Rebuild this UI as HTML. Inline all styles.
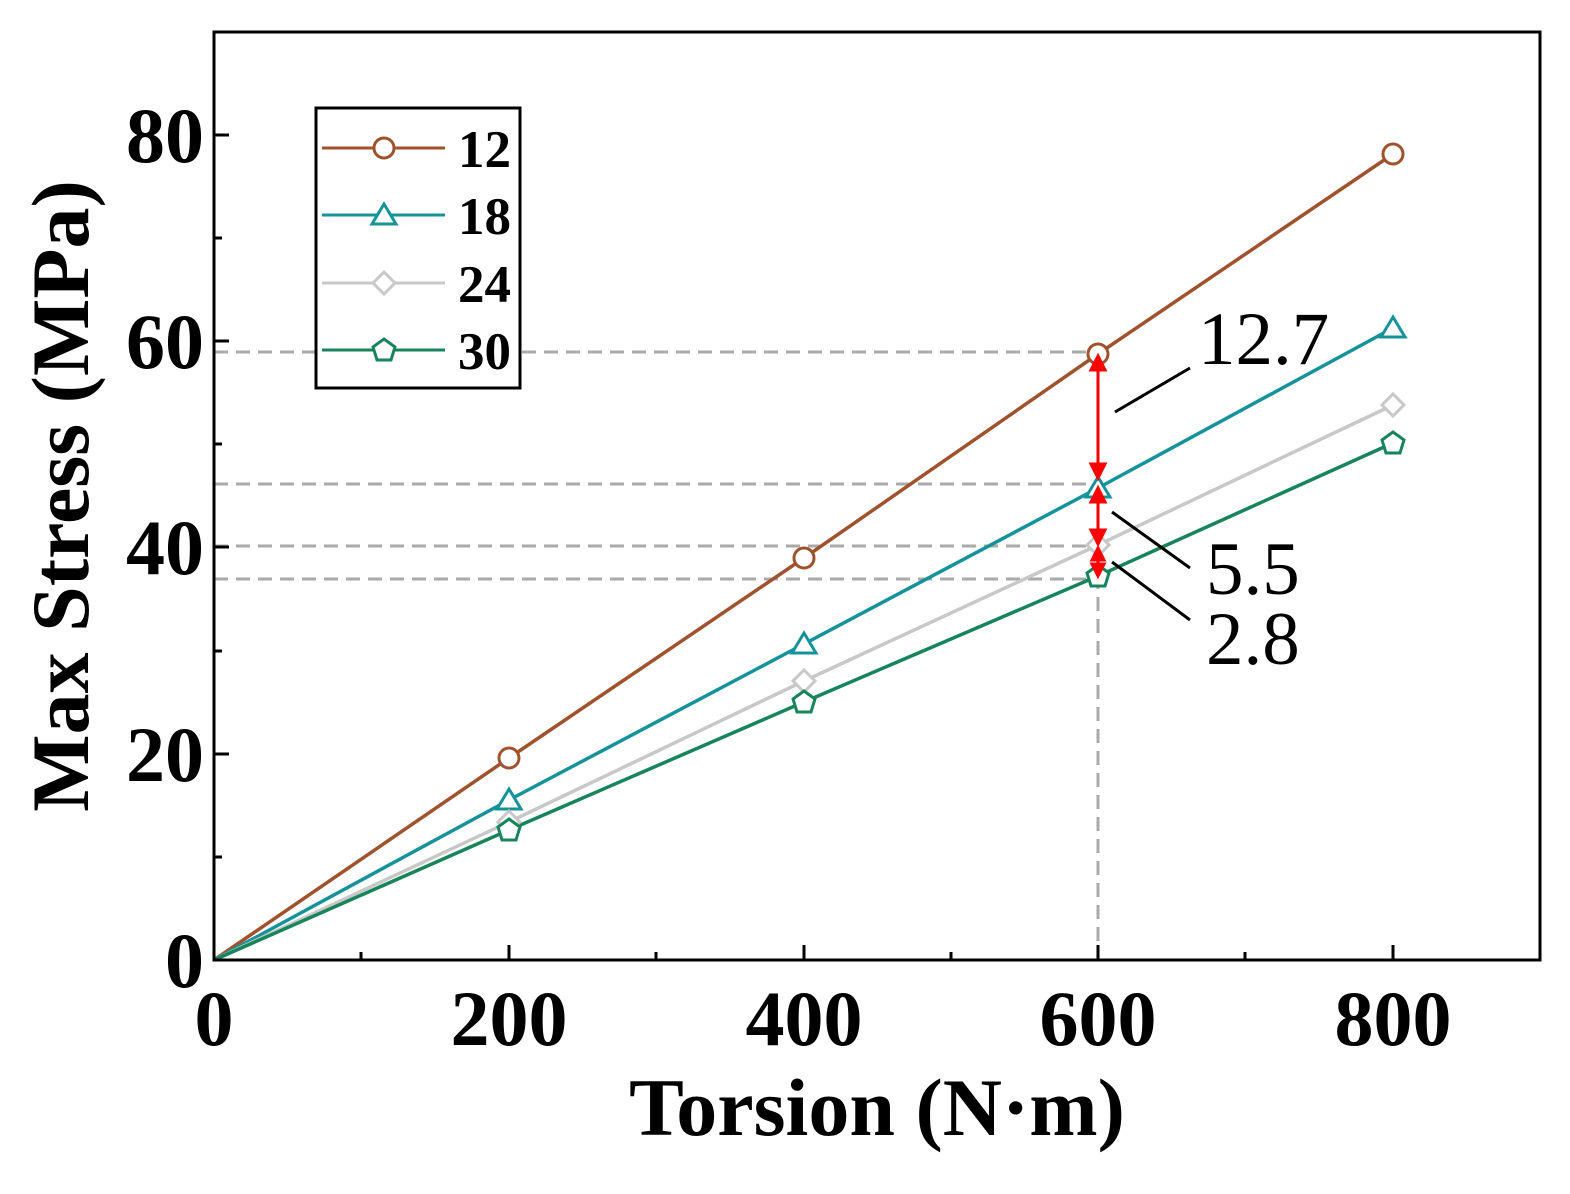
<!DOCTYPE html>
<html><head><meta charset="utf-8"><style>body{margin:0;background:#fff}</style></head><body>
<svg width="1570" height="1189" xmlns="http://www.w3.org/2000/svg" font-family="Liberation Serif, serif">
<rect width="1570" height="1189" fill="#fff"/>
<g stroke="#aaa" stroke-width="3" stroke-dasharray="14,8" fill="none">
<line x1="214" y1="352" x2="1098" y2="352"/>
<line x1="214" y1="484" x2="1098" y2="484"/>
<line x1="214" y1="546" x2="1098" y2="546"/>
<line x1="214" y1="579" x2="1098" y2="579"/>
<line x1="1098" y1="575" x2="1098" y2="960"/>
</g>
<g fill="none" stroke-width="3.5">
<polyline stroke="#a0522d" points="214,960 509,758 804,558 1098,354 1393,154"/>
<polyline stroke="#16939a" points="214,960 509,800 804,644 1098,488 1393,328"/>
<polyline stroke="#c8c8c8" points="214,960 509,822 804,681 1098,545 1393,405"/>
<polyline stroke="#17845a" points="214,960 509,830 804,702 1098,576 1393,443"/>
</g>
<g fill="#fff" stroke-width="3">
<g stroke="#a0522d"><circle cx="509" cy="758" r="10"/><circle cx="804" cy="558" r="10"/><circle cx="1098" cy="354" r="10"/><circle cx="1393" cy="154" r="10"/></g>
<g stroke="#16939a"><polygon points="509,789 521,809 497,809"/><polygon points="804,633 816,653 792,653"/><polygon points="1098,477 1110,497 1086,497"/><polygon points="1393,317 1405,337 1381,337"/></g>
<g stroke="#c8c8c8"><polygon points="509,811 520,822 509,833 498,822"/><polygon points="804,670 815,681 804,692 793,681"/><polygon points="1098,534 1109,545 1098,556 1087,545"/><polygon points="1393,394 1404,405 1393,416 1382,405"/></g>
<g stroke="#17845a"><polygon points="509,819 520,827 516,840 502,840 498,827"/><polygon points="804,691 815,699 811,712 797,712 793,699"/><polygon points="1098,565 1109,573 1105,586 1091,586 1087,573"/><polygon points="1393,432 1404,440 1400,453 1386,453 1382,440"/></g>
</g>
<g stroke="#f00" stroke-width="3" fill="#f00">
<line x1="1098" y1="362" x2="1098" y2="470"/><polygon points="1098,356 1091,370 1105,370"/><polygon points="1098,478 1091,464 1105,464"/>
<line x1="1098" y1="494" x2="1098" y2="536"/><polygon points="1098,488 1091,502 1105,502"/><polygon points="1098,544 1091,530 1105,530"/>
<line x1="1098" y1="552" x2="1098" y2="570"/><polygon points="1098,548 1092,560 1104,560"/><polygon points="1098,576 1092,564 1104,564"/>
</g>
<g stroke="#000" stroke-width="3">
<line x1="1115" y1="412" x2="1190" y2="368"/>
<line x1="1112" y1="512" x2="1190" y2="568"/>
<line x1="1112" y1="562" x2="1190" y2="620"/>
</g>
<g font-size="75" fill="#000">
<text x="1198" y="364">12.7</text>
<text x="1206" y="594">5.5</text>
<text x="1206" y="664">2.8</text>
</g>
<rect x="214" y="32" width="1326" height="928" fill="none" stroke="#000" stroke-width="3"/>
<g stroke="#000" stroke-width="3">
<line x1="509" y1="960" x2="509" y2="945"/><line x1="804" y1="960" x2="804" y2="945"/><line x1="1098" y1="960" x2="1098" y2="945"/><line x1="1393" y1="960" x2="1393" y2="945"/>
<line x1="361" y1="960" x2="361" y2="952"/><line x1="656" y1="960" x2="656" y2="952"/><line x1="951" y1="960" x2="951" y2="952"/><line x1="1245" y1="960" x2="1245" y2="952"/>
<line x1="214" y1="754" x2="229" y2="754"/><line x1="214" y1="547" x2="229" y2="547"/><line x1="214" y1="341" x2="229" y2="341"/><line x1="214" y1="135" x2="229" y2="135"/>
<line x1="214" y1="857" x2="222" y2="857"/><line x1="214" y1="651" x2="222" y2="651"/><line x1="214" y1="444" x2="222" y2="444"/><line x1="214" y1="238" x2="222" y2="238"/>
</g>
<g font-size="78" font-weight="bold" fill="#000">
<g text-anchor="end"><text x="204" y="987">0</text><text x="204" y="781">20</text><text x="204" y="574">40</text><text x="204" y="368">60</text><text x="204" y="162">80</text></g>
<g text-anchor="middle"><text x="214" y="1045">0</text><text x="509" y="1045">200</text><text x="804" y="1045">400</text><text x="1098" y="1045">600</text><text x="1393" y="1045">800</text></g>
<text x="877" y="1135" text-anchor="middle" font-size="82">Torsion (N·m)</text>
<text transform="translate(88,496) rotate(-90)" text-anchor="middle" font-size="82">Max Stress (MPa)</text>
</g>
<rect x="316" y="108" width="204" height="280" fill="#fff" stroke="#000" stroke-width="3"/>
<g stroke-width="3" fill="#fff">
<line x1="322" y1="148" x2="445" y2="148" stroke="#a0522d"/><circle cx="384" cy="148" r="10" stroke="#a0522d"/>
<line x1="322" y1="215" x2="445" y2="215" stroke="#16939a"/><polygon points="384,204 396,224 372,224" stroke="#16939a"/>
<line x1="322" y1="283" x2="445" y2="283" stroke="#c8c8c8"/><polygon points="384,272 395,283 384,294 373,283" stroke="#c8c8c8"/>
<line x1="322" y1="350" x2="445" y2="350" stroke="#17845a"/><polygon points="384,339 395,347 391,360 377,360 373,347" stroke="#17845a"/>
</g>
<g font-size="53" font-weight="bold" fill="#000">
<text x="458" y="167">12</text><text x="458" y="234">18</text><text x="458" y="302">24</text><text x="458" y="369">30</text>
</g>
</svg>
</body></html>
